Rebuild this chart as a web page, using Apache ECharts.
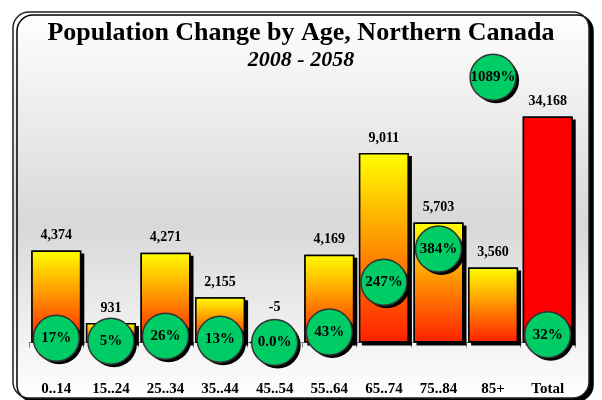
<!DOCTYPE html>
<html lang="en">
<head>
<meta charset="UTF-8">
<title>Population Change by Age, Northern Canada</title>
<script src="https://cdn.jsdelivr.net/npm/echarts@6/dist/echarts.min.js"></script>
<style>
    *{padding:0;margin:0;}
    html,body{width:602px;height:400px;background:#fff;}
    #main{width:602px;height:400px;}
</style>
</head>
<body>
<div id="main"></div>
<script>
    var ageGroups = ['0..14', '15..24', '25..34', '35..44', '45..54', '55..64', '65..74', '75..84', '85+', 'Total'];
    var change = [4374, 931, 4271, 2155, -5, 4169, 9011, 5703, 3560, null];
    var totalChange = [null, null, null, null, null, null, null, null, null, 34168];
    var pctChange = [17, 5, 26, 13, 0, 43, 247, 384, 1089, 32];
    var pctText = ['17%', '5%', '26%', '13%', '0.0%', '43%', '247%', '384%', '1089%', '32%'];

    var serif = '"Liberation Serif", "DejaVu Serif", serif';
    var myChart = echarts.init(document.getElementById('main'));

    function fmt(p) {
        return p.value == null ? '' : p.value.toLocaleString('en-US');
    }

    var changeData = change.map(function (v) {
        if (v != null && v < 0) {
            // Excel puts this one a bit higher
            return {value: v, label: {offset: [0, -19]}};
        }
        return v;
    });

    // drop shadow drawn by a plain copy underneath (so the border gets no shadow)
    var dropShadow = {
        color: '#000',
        borderWidth: 0,
        shadowColor: '#000',
        shadowOffsetX: 3,
        shadowOffsetY: 3,
        shadowBlur: 0
    };
    var barLabel = {
        show: true,
        position: 'top',
        distance: 8,
        color: '#000',
        fontFamily: serif,
        fontWeight: 'bold',
        fontSize: 14,
        formatter: fmt
    };

    var option = {
        backgroundColor: '#fff',
        animation: false,
        graphic: [{
            type: 'rect',
            z: -10,
            shape: {x: 13, y: 12, width: 576, height: 386, r: 16},
            style: {
                fill: new echarts.graphic.LinearGradient(0, 0, 0, 1, [
                    {offset: 0, color: '#ffffff'},
                    {offset: 0.55, color: '#d8d8d8'},
                    {offset: 1, color: '#ffffff'}
                ]),
                stroke: '#222',
                lineWidth: 1.5,
                shadowColor: '#000',
                shadowOffsetX: 4,
                shadowOffsetY: 3,
                shadowBlur: 0
            }
        }],
        title: {
            text: 'Population Change by Age, Northern Canada',
            subtext: '2008 - 2058',
            left: 'center',
            top: 15,
            itemGap: 3,
            textStyle: {fontFamily: serif, fontWeight: 'bold', fontSize: 26, color: '#000'},
            subtextStyle: {fontFamily: serif, fontStyle: 'italic', fontWeight: 'bold', fontSize: 22, color: '#000'}
        },
        grid: {left: 29, right: 27, top: 60, bottom: 57.5},
        xAxis: {
            type: 'category',
            data: ageGroups,
            axisLine: {lineStyle: {color: '#808080', width: 1}},
            axisTick: {show: true, length: 5, lineStyle: {color: '#808080'}},
            axisLabel: {
                margin: 39,
                color: '#000',
                fontFamily: serif,
                fontWeight: 'bold',
                fontSize: 15
            }
        },
        yAxis: [
            {type: 'value', min: 0, max: 13430, show: false, splitLine: {show: false}},
            {type: 'value', min: 0, max: 42700, show: false, splitLine: {show: false}},
            {type: 'value', min: 0, max: 1160, show: false, splitLine: {show: false}}
        ],
        series: [
            {
                name: 'Change shadow',
                type: 'bar',
                yAxisIndex: 0,
                barWidth: 50,
                barGap: '-100%',
                clip: false,
                silent: true,
                data: change,
                itemStyle: dropShadow
            },
            {
                name: 'Total shadow',
                type: 'bar',
                yAxisIndex: 1,
                barWidth: 50,
                barGap: '-100%',
                silent: true,
                data: totalChange,
                itemStyle: dropShadow
            },
            {
                name: 'Change',
                type: 'bar',
                yAxisIndex: 0,
                barWidth: 50,
                barGap: '-100%',
                clip: false,
                data: changeData,
                itemStyle: {
                    color: new echarts.graphic.LinearGradient(0, 0, 0, 1, [
                        {offset: 0, color: '#ffff00'},
                        {offset: 1, color: '#ff2000'}
                    ]),
                    borderColor: '#000',
                    borderWidth: 1.5
                },
                label: barLabel
            },
            {
                name: 'Total',
                type: 'bar',
                yAxisIndex: 1,
                barWidth: 50,
                barGap: '-100%',
                data: totalChange,
                itemStyle: {
                    color: '#ff0000',
                    borderColor: '#000',
                    borderWidth: 1.5
                },
                label: barLabel
            },
            {
                name: '% Change shadow',
                type: 'scatter',
                yAxisIndex: 2,
                z: 4,
                silent: true,
                symbol: 'circle',
                symbolSize: 46,
                data: pctChange,
                itemStyle: {
                    color: '#000',
                    opacity: 1,
                    borderWidth: 0,
                    shadowColor: '#000',
                    shadowOffsetX: 3,
                    shadowOffsetY: 3,
                    shadowBlur: 0
                }
            },
            {
                name: '% Change',
                type: 'scatter',
                yAxisIndex: 2,
                z: 5,
                symbol: 'circle',
                symbolSize: 46,
                data: pctChange,
                itemStyle: {
                    color: '#00cc66',
                    opacity: 1,
                    borderColor: '#333',
                    borderWidth: 1.5
                },
                label: {
                    show: true,
                    position: 'inside',
                    color: '#000',
                    fontFamily: serif,
                    fontWeight: 'bold',
                    fontSize: 15,
                    formatter: function (p) { return pctText[p.dataIndex]; }
                }
            }
        ]
    };
    myChart.setOption(option);
</script>
</body>
</html>
